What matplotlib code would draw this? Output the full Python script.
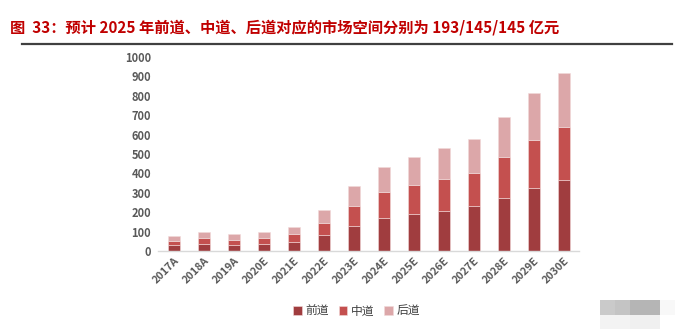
import numpy as np
import matplotlib.pyplot as plt
from matplotlib.patches import Rectangle

plt.rcParams['font.family'] = ['Noto Sans CJK SC', 'DejaVu Sans']

years = ['2017A', '2018A', '2019A', '2020E', '2021E', '2022E', '2023E',
         '2024E', '2025E', '2026E', '2027E', '2028E', '2029E', '2030E']
front = [31, 38, 31, 38, 48, 81, 131, 170, 193, 208, 232, 275, 324, 365]
middle = [22, 29, 26, 29, 40, 65, 103, 133, 145, 162, 172, 209, 246, 275]
back = [26, 31, 29, 29, 38, 64, 102, 129, 145, 160, 174, 208, 244, 277]
series_names = ['前道', '中道', '后道']
colors = ['#A03D3F', '#C4504F', '#DCA7A9']

fig = plt.figure(figsize=(6.91, 3.32), dpi=100)
ax = fig.add_axes([0.2287, 0.244, 0.6093, 0.584])

x = np.arange(len(years))
bottom = np.zeros(len(years))
for vals, name, c in zip([front, middle, back], series_names, colors):
    ax.bar(x, vals, width=0.42, bottom=bottom, color=c, label=name,
           edgecolor='#F2DADA', linewidth=0.4)
    bottom += np.array(vals)

ax.set_xlim(-0.53, 13.5)
ax.set_ylim(0, 1000)
ax.set_yticks(range(0, 1001, 100))
ax.set_xticks(x)
ax.set_xticklabels(years, rotation=45, ha='right', rotation_mode='anchor')
ax.tick_params(axis='both', length=0, colors='#595959', labelsize=8)
ax.tick_params(axis='x', pad=3, labelsize=7.8)
ax.tick_params(axis='y', pad=5)
for lab in ax.get_yticklabels() + ax.get_xticklabels():
    lab.set_fontweight('bold')
for s in ['top', 'right', 'left']:
    ax.spines[s].set_visible(False)
ax.spines['bottom'].set_color('#D9D9D9')
ax.spines['bottom'].set_linewidth(1.0)

leg = fig.legend(loc='center', bbox_to_anchor=(0.516, 0.063), ncol=3, frameon=False,
                 fontsize=8.5, handlelength=0.75, handleheight=0.75, handletextpad=0.3,
                 columnspacing=0.8)
for t in leg.get_texts():
    t.set_color('#404040')

fig.text(0.014, 0.918, '图  33：预计 2025 年前道、中道、后道对应的市场空间分别为 193/145/145 亿元',
         color='#C00000', fontsize=11, fontweight='bold', va='center')
fig.add_artist(plt.Line2D([0.032, 0.973], [0.867, 0.867], color='#404040', lw=1.6))

# faint grey blocks in the lower right corner
for (x0, y0, w, h, c) in [(600, 300, 15, 15, '#CACACA'), (615, 300, 15, 15, '#C4C4C4'),
                          (630, 300, 30, 15, '#B5B5B5'), (660, 300, 15, 15, '#F8F8F8'),
                          (600, 315, 30, 14, '#F3F3F3'), (630, 315, 30, 14, '#F0F0F0')]:
    fig.patches.append(Rectangle((x0 / 691, 1 - (y0 + h) / 332), w / 691, h / 332,
                                 transform=fig.transFigure, color=c, lw=0))

fig.savefig('out.png', dpi=100)
